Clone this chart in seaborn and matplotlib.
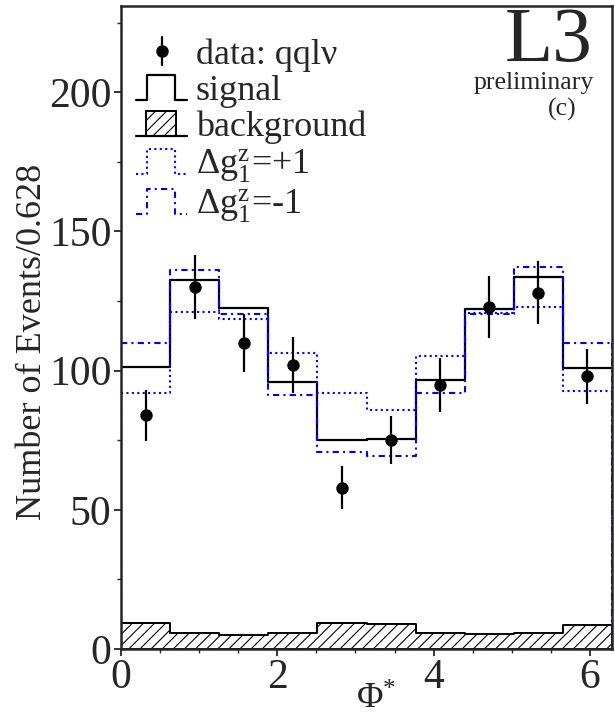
import numpy as np
import pandas as pd
import matplotlib
matplotlib.use("Agg")
import matplotlib.pyplot as plt
import seaborn as sns
from matplotlib.lines import Line2D
from matplotlib.patches import Rectangle
from matplotlib.legend_handler import HandlerBase
from matplotlib.ticker import MultipleLocator

# Phi* binning: 10 bins over [0, 2*pi], width 0.628
phi_edges = np.linspace(0.0, 2.0 * np.pi, 11)
phi_centers = 0.5 * (phi_edges[:-1] + phi_edges[1:])
bin_list = phi_edges.tolist()

data_counts = [84, 130, 110, 102, 58, 75, 95, 123, 128, 98]
data_errors = [9.2, 11.4, 10.5, 10.1, 7.6, 8.7, 9.7, 11.1, 11.3, 9.9]
signal = [101.2, 132.6, 122.5, 96.1, 75.0, 75.5, 96.8, 122.2, 133.6, 101.0]
background = [9.2, 5.6, 5.0, 5.8, 9.2, 9.0, 5.8, 5.3, 5.6, 8.6]
dg1z_plus = [92.0, 120.9, 118.6, 106.3, 91.8, 86.0, 105.1, 120.8, 122.7, 92.6]
dg1z_minus = [109.8, 136.2, 120.3, 91.2, 70.7, 69.5, 92.1, 120.2, 137.1, 110.0]

x_ticks = [0, 2, 4, 6]
y_ticks = [0, 50, 100, 150, 200]

frame = pd.DataFrame({
    "phi": phi_centers,
    "data": data_counts,
    "err": data_errors,
    "signal": signal,
    "background": background,
    "plus": dg1z_plus,
    "minus": dg1z_minus,
})

sns.set_style("ticks")
plt.rcParams["font.family"] = ["Liberation Serif", "DejaVu Serif"]
plt.rcParams["mathtext.fontset"] = "custom"
plt.rcParams["mathtext.rm"] = "Liberation Serif"
plt.rcParams["mathtext.it"] = "Liberation Serif:italic"
plt.rcParams["hatch.linewidth"] = 0.8
plt.rcParams["hatch.color"] = "black"

BLUE = "#0000ff"
DOTTED = (0, (1, 1.6))
DASHDOT = (0, (3, 2, 1, 2))

fig = plt.figure(figsize=(6.15, 7.15), dpi=100)
fig.subplots_adjust(left=0.197, right=0.995, top=0.9916, bottom=0.0923)
ax = fig.add_subplot(111)

# hatched background
sns.histplot(data=frame, x="phi", weights="background", bins=bin_list,
             element="step", fill=True, facecolor="white", edgecolor="black",
             hatch="///", linewidth=1.4, alpha=1, ax=ax, zorder=2)
bkg_artist = ax.collections[-1]

# signal expectation
sns.histplot(data=frame, x="phi", weights="signal", bins=bin_list,
             element="step", fill=False, color="black", linewidth=1.6,
             ax=ax, zorder=3)
sig_line = ax.lines[-1]

# anomalous coupling variations
sns.histplot(data=frame, x="phi", weights="plus", bins=bin_list,
             element="step", fill=False, color=BLUE, linewidth=1.5,
             linestyle=DOTTED, ax=ax, zorder=4)
plus_line = ax.lines[-1]
sns.histplot(data=frame, x="phi", weights="minus", bins=bin_list,
             element="step", fill=False, color=BLUE, linewidth=1.5,
             linestyle=DASHDOT, ax=ax, zorder=4)
minus_line = ax.lines[-1]
for col, ls in (("plus", DOTTED), ("minus", DASHDOT)):
    ax.vlines([phi_edges[0], phi_edges[-1]], 0,
              [frame[col].iloc[0], frame[col].iloc[-1]],
              colors=BLUE, linewidth=1.5, linestyles=[ls], zorder=4)

# data with statistical errors
ax.errorbar(frame["phi"], frame["data"], yerr=frame["err"], fmt="none",
            ecolor="black", elinewidth=1.6, capsize=0, zorder=5)
sns.scatterplot(data=frame, x="phi", y="data", color="black", s=80,
                linewidth=0, legend=False, ax=ax, zorder=6)

ax.set_xlim(0, 2 * np.pi)
ax.set_ylim(0, 231)
ax.set_xticks(x_ticks)
ax.set_yticks(y_ticks)
ax.xaxis.set_minor_locator(MultipleLocator(0.5))
ax.yaxis.set_minor_locator(MultipleLocator(25))
ax.tick_params(which="major", direction="out", length=5, width=1.3,
               labelsize=30, pad=2)
ax.tick_params(which="minor", direction="out", length=3, width=1.0)
for sp in ax.spines.values():
    sp.set_linewidth(1.8)
    sp.set_visible(True)
    sp.set_zorder(7)

ax.set_xlabel("\u03a6$^{*}$", fontsize=26, va="baseline")
ax.set_ylabel("Number of Events/0.628", fontsize=26)
ax.xaxis.set_label_coords(0.52, -0.0925)
ax.yaxis.set_label_coords(-0.147, 0.477)

ax.text(0.961, 0.914, "L3", transform=ax.transAxes, ha="right",
        va="baseline", fontsize=57)
ax.text(0.963, 0.871, "preliminary", transform=ax.transAxes, ha="right",
        va="baseline", fontsize=18.5)
ax.text(0.898, 0.829, "(c)", transform=ax.transAxes, ha="center",
        va="baseline", fontsize=18.5)


class StepHandler(HandlerBase):
    """Legend icon drawn as a single histogram bin outline."""
    def create_artists(self, legend, orig, xd, yd, w, h, fs, trans):
        x0, y0 = -xd, -yd
        xs = [x0, x0 + 0.22 * w, x0 + 0.22 * w, x0 + 0.77 * w, x0 + 0.77 * w, x0 + w]
        ys = [y0, y0, y0 + h, y0 + h, y0, y0]
        line = Line2D(xs, ys)
        line.update_from(orig)
        line.set_data(xs, ys)
        line.set_transform(trans)
        return [line]


class HatchHandler(HandlerBase):
    """Legend icon: hatched bin on a baseline."""
    def create_artists(self, legend, orig, xd, yd, w, h, fs, trans):
        x0, y0 = -xd, -yd
        rect = Rectangle((x0 + 0.2 * w, y0), 0.58 * w, h, facecolor="white",
                         edgecolor="black", hatch="///", linewidth=1.4,
                         transform=trans)
        base = Line2D([x0, x0 + w], [y0, y0], color="black", lw=1.6,
                      transform=trans)
        return [rect, base]


class DataHandler(HandlerBase):
    """Legend icon: marker with a vertical error bar."""
    def create_artists(self, legend, orig, xd, yd, w, h, fs, trans):
        xc = -xd + 0.5 * w
        bar = Line2D([xc, xc], [-yd - 0.05 * h, -yd + 1.05 * h], color="black",
                     lw=1.6, transform=trans)
        dot = Line2D([xc], [-yd + 0.5 * h], marker="o", markersize=8,
                     color="black", linestyle="none", transform=trans)
        return [bar, dot]


data_proxy = Line2D([], [], color="black", marker="o")
handles = [data_proxy, sig_line, bkg_artist, plus_line, minus_line]
labels = ["data: qql\u03bd", "signal", "background",
          r"$\Delta\mathrm{g}_{1}^{\mathrm{z}}$=+1",
          r"$\Delta\mathrm{g}_{1}^{\mathrm{z}}$=-1"]
ax.legend(handles, labels, loc="upper left", bbox_to_anchor=(0.031, 0.95),
          frameon=False, fontsize=26, handlelength=1.4, handleheight=0.7,
          handletextpad=0.25, labelspacing=0.08, borderaxespad=0,
          borderpad=0,
          handler_map={data_proxy: DataHandler(), sig_line: StepHandler(),
                       bkg_artist: HatchHandler(), plus_line: StepHandler(),
                       minus_line: StepHandler()})

fig.savefig("out.png", dpi=100)
